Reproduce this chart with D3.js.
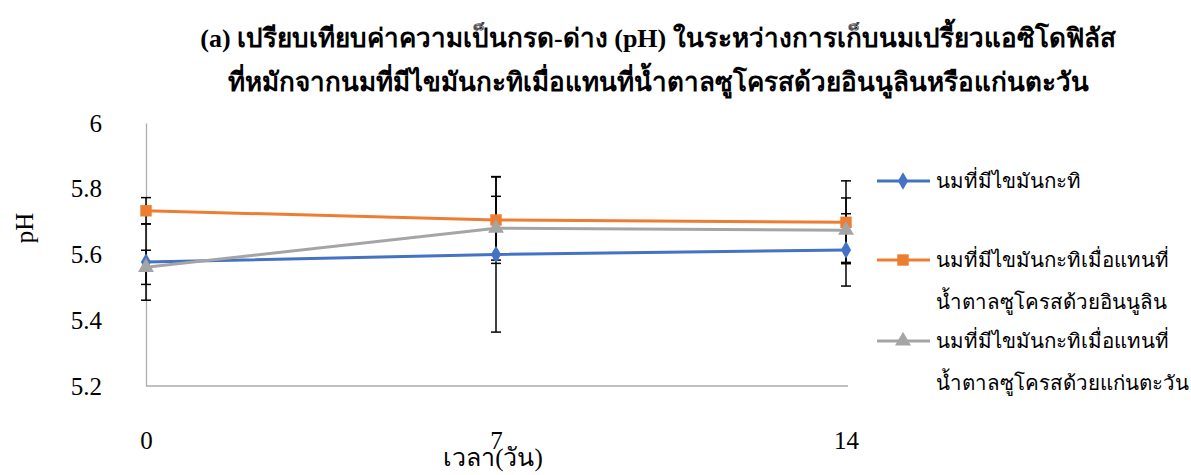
<!DOCTYPE html>
<html>
<head>
<meta charset="utf-8">
<script src="https://cdn.jsdelivr.net/npm/d3@7"></script>
<style>
  body { margin: 0; background: #fff; }
  svg.vis { display: block; }
  svg.vis text { font-family: "Liberation Serif", "Times New Roman", serif; fill: #000; }
</style>
</head>
<body>
<svg class="vis" width="1191" height="475"></svg>
<script>
// storage day and pH readings
const days = [0, 7, 14];
const seriesNames = [
    "นมที่มีไขมันกะทิ",
    "นมที่มีไขมันกะทิเมื่อแทนที่|น้ำตาลซูโครสด้วยอินนูลิน",
    "นมที่มีไขมันกะทิเมื่อแทนที่|น้ำตาลซูโครสด้วยแก่นตะวัน"
];
const phCoconut   = [5.577, 5.600, 5.614];
const phInulin    = [5.733, 5.705, 5.698];
const phSunflower = [5.561, 5.680, 5.674];
const errCoconut   = [0.116, 0.236, 0.110];
const errInulin    = [0.040, 0.132, 0.126];
const errSunflower = [0.052, 0.097, 0.098];
const yTicks = [5.2, 5.4, 5.6, 5.8, 6];
const xTicks = [0, 7, 14];
const titleLines = [
    "(a) เปรียบเทียบค่าความเป็นกรด-ด่าง (pH) ในระหว่างการเก็บนมเปรี้ยวแอซิโดฟิลัส",
    "ที่หมักจากนมที่มีไขมันกะทิเมื่อแทนที่น้ำตาลซูโครสด้วยอินนูลินหรือแก่นตะวัน"
];

const vis = {

    dims: { left: 146, right: 846, top: 123, bottom: 386 },

    colors: ["#4472C4", "#ED7D31", "#A5A5A5"],
    markers: [d3.symbolDiamond, d3.symbolSquare, d3.symbolTriangle],
    markerSizes: [90, 130, 110],

    draw: function() {

        const svg = d3.select("svg.vis");
        const d = vis.dims;

        const series = [
            { name: seriesNames[0], vals: phCoconut, errs: errCoconut },
            { name: seriesNames[1], vals: phInulin, errs: errInulin },
            { name: seriesNames[2], vals: phSunflower, errs: errSunflower }
        ];

        const x = d3.scaleLinear().domain([0, 14]).range([d.left, d.right]);
        const y = d3.scaleLinear().domain([5.2, 6]).range([d.bottom, d.top]);

        // title
        svg.append("g")
            .selectAll("text")
            .data(titleLines)
            .join("text")
            .attr("x", 658)
            .attr("y", (t, i) => 47 + i * 44)
            .attr("text-anchor", "middle")
            .attr("font-weight", "bold")
            .attr("font-size", 26)
            .text(t => t);

        // axes
        const yAxis = svg.append("g")
            .attr("transform", `translate(${d.left},0)`)
            .call(d3.axisLeft(y).tickValues(yTicks).tickSize(0).tickPadding(44).tickFormat(v => v));
        yAxis.attr("font-family", null);
        yAxis.select(".domain").attr("stroke", "#ADADAD").attr("stroke-width", 1.3);
        yAxis.selectAll("text").attr("font-size", 25);

        const xAxis = svg.append("g")
            .attr("transform", `translate(0,${d.bottom})`)
            .call(d3.axisBottom(x).tickValues(xTicks).tickSize(0).tickPadding(45).tickFormat(v => v));
        xAxis.attr("font-family", null);
        xAxis.select(".domain").attr("stroke", "#ADADAD").attr("stroke-width", 1.3)
            .attr("d", `M${d.left},0H${d.right + 2}`);
        xAxis.selectAll("text").attr("font-size", 25);

        // axis titles
        svg.append("text")
            .attr("transform", "translate(33,228) rotate(-90)")
            .attr("text-anchor", "middle")
            .attr("font-size", 25)
            .text("pH");

        svg.append("text")
            .attr("x", 493)
            .attr("y", 466)
            .attr("text-anchor", "middle")
            .attr("font-size", 25)
            .text("เวลา(วัน)");

        // error bars
        const eb = svg.append("g").attr("stroke", "#000").attr("stroke-width", 1.5);
        series.forEach(s => {
            s.vals.forEach((v, i) => {
                const cx = x(days[i]);
                const lo = y(v - s.errs[i]), hi = y(v + s.errs[i]);
                eb.append("line").attr("x1", cx).attr("x2", cx).attr("y1", lo).attr("y2", hi);
                eb.append("line").attr("x1", cx - 5).attr("x2", cx + 5).attr("y1", lo).attr("y2", lo);
                eb.append("line").attr("x1", cx - 5).attr("x2", cx + 5).attr("y1", hi).attr("y2", hi);
            });
        });

        // lines + markers
        const line = d3.line().x((v, i) => x(days[i])).y(v => y(v));
        series.forEach((s, k) => {
            svg.append("path")
                .attr("d", line(s.vals))
                .attr("fill", "none")
                .attr("stroke", vis.colors[k])
                .attr("stroke-width", 3);
            svg.append("g")
                .selectAll("path")
                .data(s.vals)
                .join("path")
                .attr("transform", (v, i) => `translate(${x(days[i])},${y(v)})`)
                .attr("d", d3.symbol().type(vis.markers[k]).size(vis.markerSizes[k]))
                .attr("fill", vis.colors[k]);
        });

        // legend
        const legY = [181, 260, 341];
        const leg = svg.append("g");
        series.forEach((s, k) => {
            const g = leg.append("g").attr("transform", `translate(0,${legY[k]})`);
            g.append("line").attr("x1", 877).attr("x2", 930)
                .attr("stroke", vis.colors[k]).attr("stroke-width", 3);
            g.append("path")
                .attr("transform", "translate(903,0)")
                .attr("d", d3.symbol().type(vis.markers[k]).size(vis.markerSizes[k]))
                .attr("fill", vis.colors[k]);
            g.selectAll("text")
                .data(s.name.split("|"))
                .join("text")
                .attr("x", 936)
                .attr("y", (t, i) => 7 + i * 42)
                .attr("font-size", 20.5)
                .text(t => t);
        });
    }
};

vis.draw();
</script>
</body>
</html>
